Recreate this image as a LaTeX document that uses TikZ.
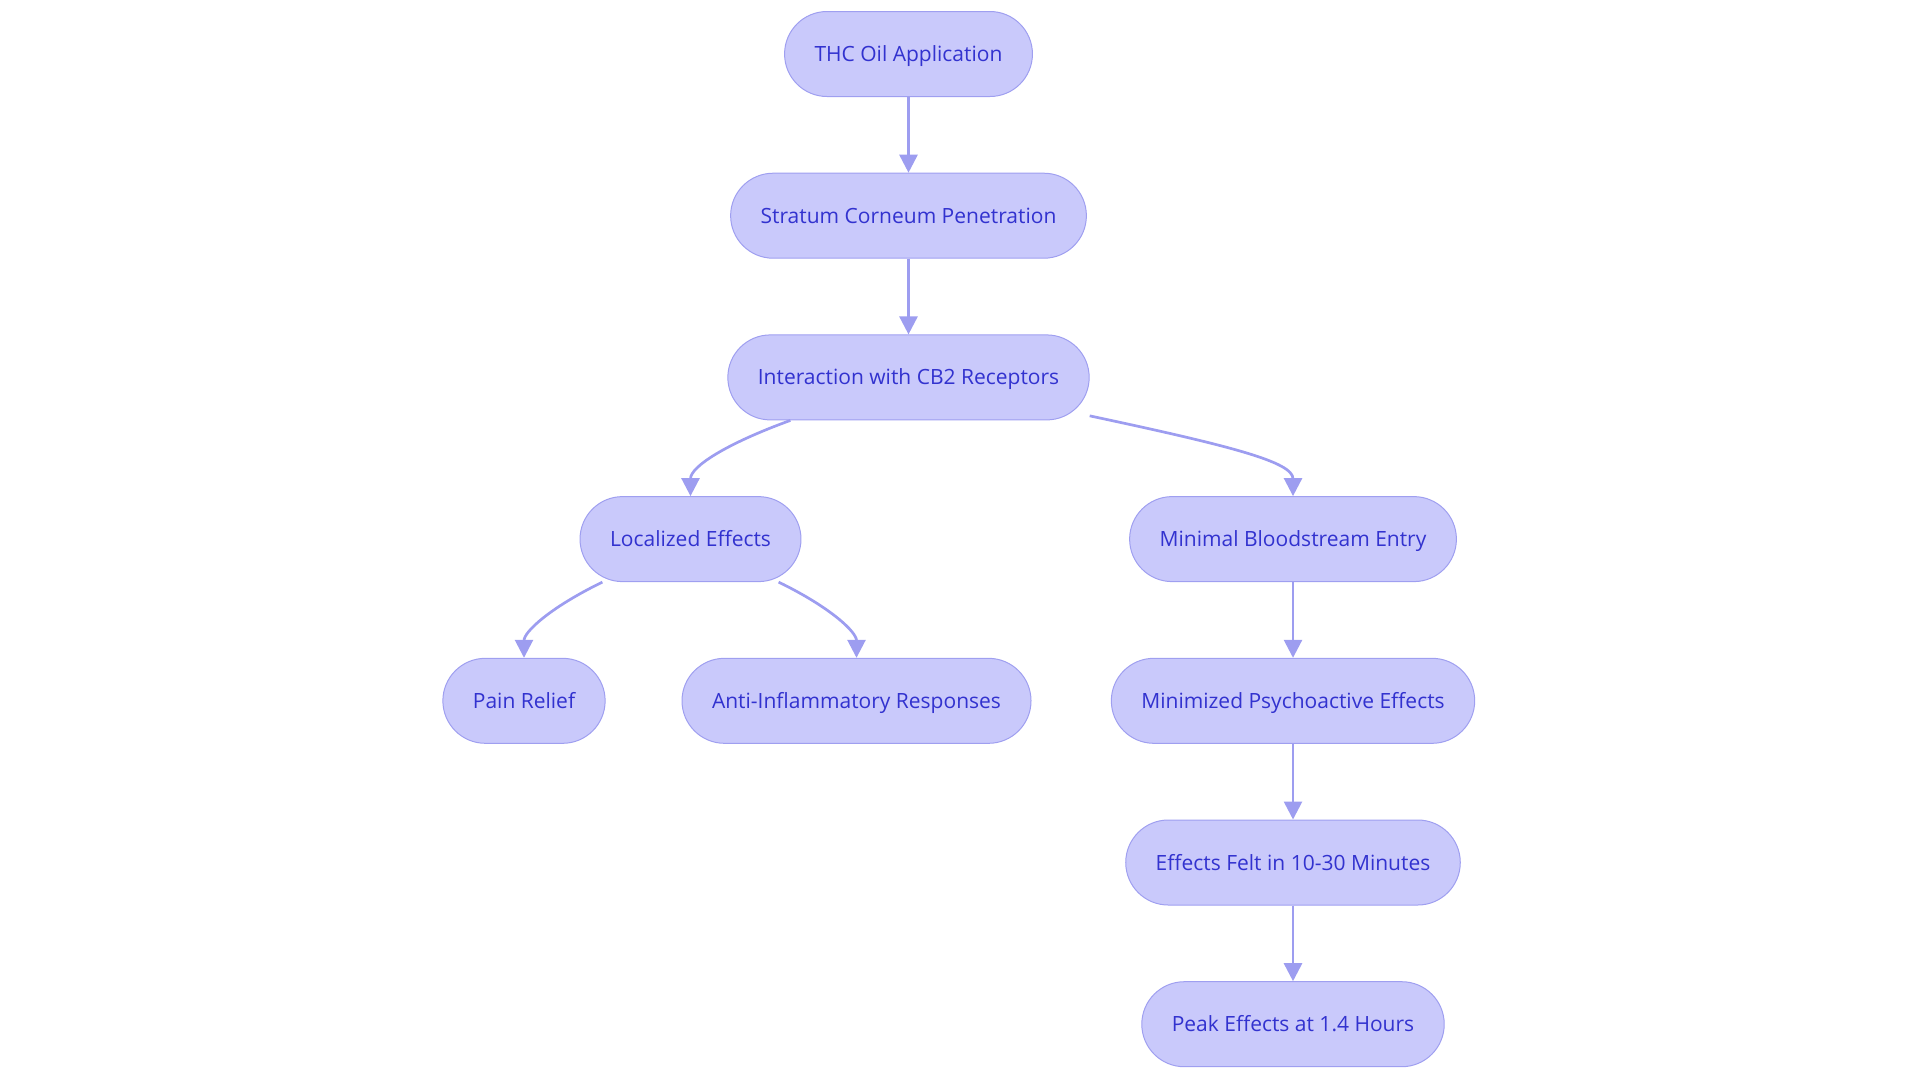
\documentclass[tikz,border=0pt]{standalone}
\usepackage{fontspec}
\setmainfont{Open Sans}
\usepackage{xcolor}
\usetikzlibrary{arrows.meta}
\definecolor{boxfill}{HTML}{C9C9FB}
\definecolor{boxline}{HTML}{9F9FF0}
\definecolor{boxtext}{HTML}{3232CF}
\definecolor{edgeblue}{HTML}{9D9DF0}
\begin{document}
\begin{tikzpicture}[x=0.5pt,y=0.5pt,
	stage/.style={draw=boxline,fill=boxfill,text=boxtext,line width=0.5pt,rounded corners=21.25pt,minimum height=42.5pt,inner xsep=15pt,text height=9pt,text depth=1.5pt,font=\fontsize{10.5}{13}\selectfont},
	link/.style={draw=edgeblue,line width=1.35pt,-{Triangle[length=9pt,width=9pt]}}]
		\useasboundingbox(0,0)rectangle(1920,-1083);
		\node[stage](thc)at(908.5,-54){THC Oil Application};
		\node[stage](stratum)at(908.5,-215.7){Stratum Corneum Penetration};
		\node[stage](cb2)at(908.5,-377.4){Interaction with CB2 Receptors};
		\node[stage](local)at(690.5,-539.1){Localized Effects};
		\node[stage](blood)at(1293,-539.1){Minimal Bloodstream Entry};
		\node[stage](pain)at(524,-700.8){Pain Relief};
		\node[stage](inflam)at(856.5,-700.8){Anti-Inflammatory Responses};
		\node[stage](psycho)at(1293,-700.8){Minimized Psychoactive Effects};
		\node[stage](felt)at(1293,-862.5){Effects Felt in 10-30 Minutes};
		\node[stage](peak)at(1293,-1024.2){Peak Effects at 1.4 Hours};
		\draw[link](thc)--(stratum);
		\draw[link](stratum)--(cb2);
		\draw[link](cb2)to[out=-160,in=90,out looseness=1.4,in looseness=0.6](local);
		\draw[link](cb2)to[out=-12,in=90,out looseness=1.7,in looseness=0.4](blood);
		\draw[link](local)to[out=-154,in=90,out looseness=1.4,in looseness=0.6](pain);
		\draw[link](local)to[out=-26,in=90,out looseness=1.4,in looseness=0.6](inflam);
		\draw[link](blood)--(psycho);
		\draw[link](psycho)--(felt);
		\draw[link](felt)--(peak);
\end{tikzpicture}
\end{document}
